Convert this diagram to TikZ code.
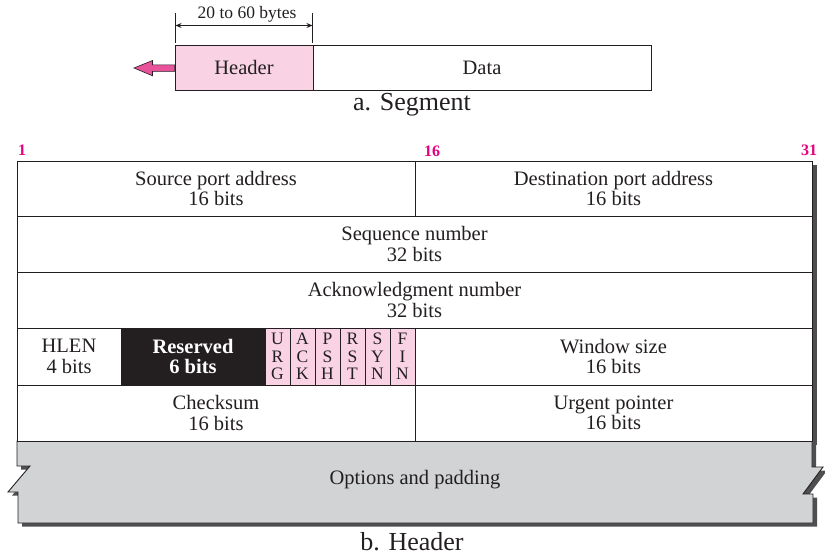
\documentclass[tikz,border=0pt]{standalone}
\usepackage{fontspec}
\setmainfont{Liberation Serif}
\usetikzlibrary{arrows.meta,calc}
\definecolor{ink}{HTML}{231F20}
\definecolor{lpink}{HTML}{F9D3E4}
\definecolor{mpink}{HTML}{E8529A}
\definecolor{mag}{HTML}{E5007E}
\definecolor{optgray}{HTML}{D1D3D4}
\definecolor{shadowgray}{HTML}{4F4F51}
\begin{document}
\begin{tikzpicture}[x=1pt,y=-1pt,
  cell/.style={draw=ink, line width=0.9pt, inner sep=0pt, align=center, text=ink,
    font=\fontsize{20.5}{20.5}\selectfont},
  flagcell/.style={cell, fill=lpink, minimum width=25, minimum height=57,
    font=\fontsize{17.5}{17.5}\selectfont},
  bitnum/.style={text=mag, inner sep=0pt, font=\bfseries\fontsize{16}{16}\selectfont},
  caption/.style={text=ink, inner sep=0pt, font=\fontsize{26}{26}\selectfont},
  dimtext/.style={text=ink, inner sep=0pt, font=\fontsize{17.5}{17.5}\selectfont},
  plain/.style={text=ink, inner sep=0pt, font=\fontsize{20.5}{20.5}\selectfont}
]
\useasboundingbox (0,0) rectangle (825,557);

% ---------- a. Segment ----------
\node[cell, fill=lpink, minimum width=138, minimum height=45] (hdr) at (244,67.5) {Header};
\node[cell, minimum width=338, minimum height=45] (data) at (482,67.5) {Data};
\node[caption] (capa) at (412,105) {a. Segment};

\coordinate (t1a) at (175.5,13);
\coordinate (t1b) at (175.5,43);
\coordinate (t2a) at (312.5,13);
\coordinate (t2b) at (312.5,43);
\draw[ink, line width=0.8pt] (t1a) -- (t1b);
\draw[ink, line width=0.8pt] (t2a) -- (t2b);
\coordinate (d1) at (175.5,25.5);
\coordinate (d2) at (312.5,25.5);
\draw[ink, line width=0.8pt, {Stealth[length=6pt,width=5pt]}-{Stealth[length=6pt,width=5pt]}] (d1) -- (d2);
\node[dimtext] (dimlbl) at (247,14) {20 to 60 bytes};

\coordinate (tip) at (134,68);
\filldraw[fill=mpink, draw=ink, line width=0.6pt]
  ($(hdr.west)+(0,-2.7)$) -- (152.5,64.8) -- (152.5,60.5) -- (tip) -- (152.5,75.8) -- (152.5,71.3) -- ($(hdr.west)+(0,3.8)$) -- cycle;

% ---------- b. Header ----------
\node[bitnum] (n1) at (22,150.5) {1};
\node[bitnum] (n16) at (432,151) {16};
\node[bitnum] (n31) at (809,150.5) {31};

% shadows
\fill[shadowgray] (21,165) rectangle (816.5,445);
\fill[shadowgray, shift={(4,3.5)}]
  (17,441) -- (812,441) -- (812,467) -- (823,467) -- (803,494) -- (813,494) -- (813,523)
  -- (18,523) -- (18,492) -- (8,492) -- (30,466) -- (17,466) -- cycle;

% options and padding
\filldraw[fill=optgray, draw=ink, line width=0.9pt]
  (17,441) -- (812,441) -- (812,467) -- (823,467) -- (803,494) -- (813,494) -- (813,523)
  -- (18,523) -- (18,492) -- (8,492) -- (30,466) -- (17,466) -- cycle;
\node[plain] (opt) at (415,480) {Options and padding};

% row 1
\node[cell, fill=white, minimum width=398, minimum height=55] (src) at (216,188.5) {Source port address\\16 bits};
\node[cell, fill=white, minimum width=397, minimum height=55] (dst) at (613.5,188.5) {Destination port address\\16 bits};
% row 2
\node[cell, fill=white, minimum width=795, minimum height=56] (seq) at (414.5,244) {Sequence number\\32 bits};
% row 3
\node[cell, fill=white, minimum width=795, minimum height=56] (ack) at (414.5,300) {Acknowledgment number\\32 bits};
% row 4
\node[cell, fill=white, minimum width=104, minimum height=57] (hlen) at (69,356.5) {HLEN\\4 bits};
\node[cell, fill=ink, text=white, font=\bfseries\fontsize{20.5}{20.5}\selectfont, minimum width=144, minimum height=57] (res) at (193,356.5) {Reserved\\6 bits};
\node[flagcell] (urg) at (277.5,356.5) {U\\R\\G};
\node[flagcell] (fack) at (302.5,356.5) {A\\C\\K};
\node[flagcell] (psh) at (327.5,356.5) {P\\S\\H};
\node[flagcell] (rst) at (352.5,356.5) {R\\S\\T};
\node[flagcell] (syn) at (377.5,356.5) {S\\Y\\N};
\node[flagcell] (fin) at (402.5,356.5) {F\\I\\N};
\node[cell, fill=white, minimum width=397, minimum height=57] (win) at (613.5,356.5) {Window size\\16 bits};
% row 5
\node[cell, fill=white, minimum width=398, minimum height=56] (chk) at (216,413) {Checksum\\16 bits};
\node[cell, fill=white, minimum width=397, minimum height=56] (urgp) at (613.5,413) {Urgent pointer\\16 bits};

\node[caption] (capb) at (412,542) {b. Header};
\end{tikzpicture}
\end{document}
